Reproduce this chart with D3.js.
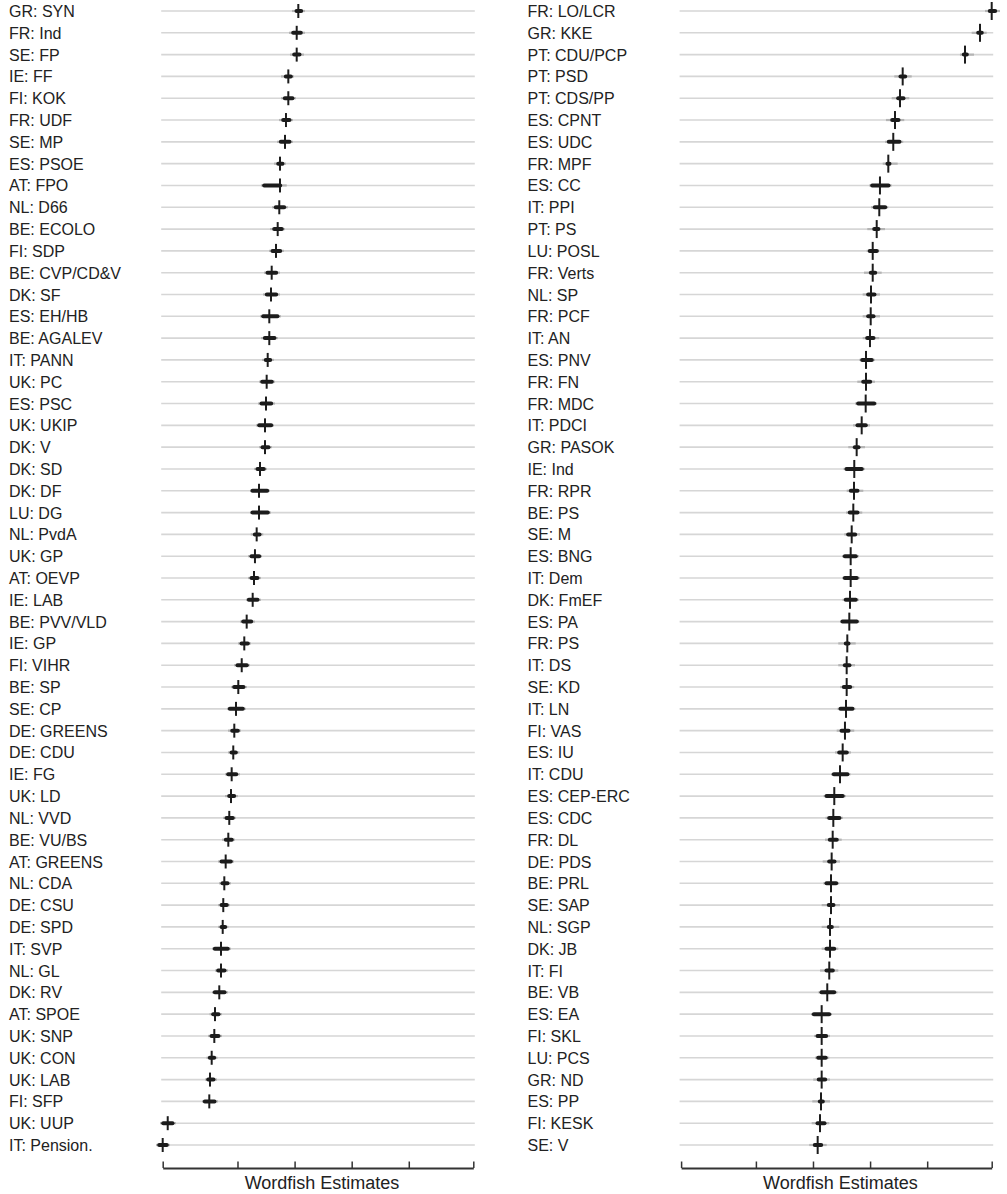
<!DOCTYPE html>
<html><head><meta charset="utf-8">
<script src="https://cdn.jsdelivr.net/npm/d3@7"></script>
<style>
body{margin:0;background:#fff}
svg{display:block}
text{font-family:"Liberation Sans",Arial,Helvetica,sans-serif}
</style>
</head><body>
<svg id="chart" width="1007" height="1194"></svg>
<script>
// ---------- DATA ----------
const leftParties = ["GR: SYN","FR: Ind","SE: FP","IE: FF","FI: KOK","FR: UDF","SE: MP","ES: PSOE","AT: FPO","NL: D66","BE: ECOLO","FI: SDP","BE: CVP/CD&V","DK: SF","ES: EH/HB","BE: AGALEV","IT: PANN","UK: PC","ES: PSC","UK: UKIP","DK: V","DK: SD","DK: DF","LU: DG","NL: PvdA","UK: GP","AT: OEVP","IE: LAB","BE: PVV/VLD","IE: GP","FI: VIHR","BE: SP","SE: CP","DE: GREENS","DE: CDU","IE: FG","UK: LD","NL: VVD","BE: VU/BS","AT: GREENS","NL: CDA","DE: CSU","DE: SPD","IT: SVP","NL: GL","DK: RV","AT: SPOE","UK: SNP","UK: CON","UK: LAB","FI: SFP","UK: UUP","IT: Pension."];
const leftEst = [0.065,0.037,0.037,-0.110,-0.110,-0.151,-0.168,-0.256,-0.256,-0.268,-0.296,-0.326,-0.401,-0.413,-0.443,-0.443,-0.471,-0.489,-0.501,-0.518,-0.518,-0.606,-0.623,-0.623,-0.664,-0.694,-0.711,-0.734,-0.839,-0.881,-0.926,-0.986,-1.026,-1.056,-1.074,-1.102,-1.114,-1.144,-1.161,-1.207,-1.231,-1.249,-1.259,-1.289,-1.289,-1.319,-1.394,-1.406,-1.452,-1.482,-1.494,-2.222,-2.310];
const leftLo = [0.007,-0.051,-0.033,-0.180,-0.198,-0.226,-0.268,-0.313,-0.559,-0.356,-0.384,-0.413,-0.501,-0.513,-0.576,-0.548,-0.531,-0.594,-0.606,-0.646,-0.588,-0.676,-0.764,-0.764,-0.723,-0.781,-0.781,-0.828,-0.926,-0.956,-1.026,-1.084,-1.161,-1.119,-1.131,-1.189,-1.172,-1.219,-1.231,-1.306,-1.289,-1.306,-1.306,-1.424,-1.364,-1.424,-1.452,-1.482,-1.511,-1.539,-1.599,-2.327,-2.398];
const leftHi = [0.142,0.135,0.112,-0.040,-0.011,-0.063,-0.063,-0.186,-0.226,-0.156,-0.198,-0.226,-0.296,-0.296,-0.273,-0.326,-0.401,-0.373,-0.384,-0.384,-0.431,-0.513,-0.454,-0.443,-0.588,-0.594,-0.623,-0.623,-0.734,-0.793,-0.811,-0.869,-0.881,-0.968,-1.003,-0.996,-1.032,-1.056,-1.074,-1.091,-1.149,-1.161,-1.189,-1.144,-1.201,-1.201,-1.306,-1.306,-1.382,-1.394,-1.377,-2.112,-2.212];
const leftWideLo = [-0.046,-0.098,-0.081,-0.238,-0.238,-0.273,-0.308,-0.361,-0.588,-0.396,-0.431,-0.448,-0.536,-0.553,-0.606,-0.588,-0.571,-0.623,-0.641,-0.676,-0.623,-0.711,-0.781,-0.781,-0.769,-0.816,-0.816,-0.851,-0.956,-0.991,-1.061,-1.114,-1.184,-1.166,-1.166,-1.219,-1.219,-1.254,-1.271,-1.341,-1.324,-1.341,-1.341,-1.447,-1.394,-1.447,-1.490,-1.517,-1.543,-1.569,-1.622,-2.357,-2.427];
const leftWideHi = [0.182,0.182,0.165,-0.011,0.025,-0.028,-0.028,-0.151,-0.138,-0.116,-0.168,-0.186,-0.256,-0.256,-0.238,-0.291,-0.361,-0.343,-0.343,-0.361,-0.396,-0.483,-0.431,-0.413,-0.548,-0.571,-0.588,-0.588,-0.694,-0.764,-0.781,-0.834,-0.851,-0.939,-0.965,-0.956,-0.991,-1.026,-1.044,-1.061,-1.114,-1.131,-1.158,-1.114,-1.166,-1.166,-1.271,-1.271,-1.350,-1.359,-1.341,-2.077,-2.182];

const rightParties = ["FR: LO/LCR","GR: KKE","PT: CDU/PCP","PT: PSD","PT: CDS/PP","ES: CPNT","ES: UDC","FR: MPF","ES: CC","IT: PPI","PT: PS","LU: POSL","FR: Verts","NL: SP","FR: PCF","IT: AN","ES: PNV","FR: FN","FR: MDC","IT: PDCI","GR: PASOK","IE: Ind","FR: RPR","BE: PS","SE: M","ES: BNG","IT: Dem","DK: FmEF","ES: PA","FR: PS","IT: DS","SE: KD","IT: LN","FI: VAS","ES: IU","IT: CDU","ES: CEP-ERC","ES: CDC","FR: DL","DE: PDS","BE: PRL","SE: SAP","NL: SGP","DK: JB","IT: FI","BE: VB","ES: EA","FI: SKL","LU: PCS","GR: ND","ES: PP","FI: KESK","SE: V"];
const rightEst = [3.130,2.925,2.662,1.571,1.524,1.436,1.406,1.319,1.173,1.161,1.116,1.046,1.046,1.016,1.011,0.998,0.928,0.928,0.923,0.853,0.765,0.723,0.718,0.706,0.678,0.660,0.660,0.648,0.636,0.601,0.590,0.590,0.578,0.560,0.520,0.473,0.373,0.356,0.345,0.327,0.315,0.315,0.298,0.298,0.285,0.250,0.152,0.152,0.152,0.152,0.140,0.123,0.082];
const rightLo = [3.070,2.867,2.615,1.506,1.466,1.361,1.301,1.278,1.011,1.056,1.046,0.968,0.986,0.940,0.940,0.923,0.835,0.853,0.765,0.753,0.706,0.560,0.636,0.618,0.590,0.531,0.531,0.548,0.490,0.548,0.531,0.513,0.455,0.473,0.433,0.338,0.210,0.257,0.268,0.257,0.210,0.250,0.250,0.210,0.210,0.123,-0.012,0.053,0.065,0.075,0.093,0.053,0.005];
const rightHi = [3.217,2.982,2.720,1.641,1.611,1.524,1.541,1.366,1.349,1.291,1.173,1.144,1.116,1.103,1.086,1.086,1.056,1.028,1.098,0.951,0.823,0.881,0.806,0.806,0.765,0.776,0.793,0.776,0.793,0.648,0.665,0.678,0.718,0.648,0.618,0.630,0.548,0.490,0.443,0.403,0.433,0.385,0.356,0.398,0.373,0.398,0.310,0.257,0.250,0.240,0.198,0.228,0.170];
const rightWideLo = [3.012,2.779,2.574,1.424,1.378,1.278,1.261,1.221,0.986,1.016,0.951,0.940,0.893,0.870,0.870,0.870,0.811,0.776,0.736,0.701,0.618,0.534,0.590,0.578,0.548,0.508,0.508,0.517,0.473,0.443,0.443,0.473,0.429,0.415,0.385,0.315,0.184,0.219,0.210,0.170,0.180,0.152,0.152,0.152,0.123,0.096,-0.035,0.018,0.035,0.005,-0.012,-0.023,-0.065];
const rightWideHi = [3.275,3.042,2.820,1.729,1.687,1.599,1.581,1.483,1.378,1.319,1.261,1.161,1.203,1.173,1.173,1.161,1.086,1.086,1.121,0.998,0.911,0.911,0.881,0.863,0.823,0.806,0.823,0.806,0.814,0.748,0.736,0.723,0.744,0.723,0.665,0.657,0.578,0.525,0.503,0.473,0.461,0.473,0.461,0.443,0.443,0.429,0.333,0.298,0.285,0.298,0.298,0.285,0.240];

const axisInnerTicks = [-1, 0, 1, 2];
const axisTitle = "Wordfish Estimates";

// ---------- DRAWING ----------
const svg = d3.select("#chart");
const allEst = leftEst.concat(rightEst);
const xMin = d3.min(allEst), xMax = d3.max(allEst);
const tickVals = [xMin, ...axisInnerTicks, xMax];

const panels = [
  {parties: leftParties, est: leftEst, lo: leftLo, hi: leftHi, wlo: leftWideLo, whi: leftWideHi,
   labelX: 9, r0: 162.7, r1: 473.3, vlen: 14},
  {parties: rightParties, est: rightEst, lo: rightLo, hi: rightHi, wlo: rightWideLo, whi: rightWideHi,
   labelX: 527.5, r0: 681.1, r1: 991.7, vlen: 18}
];

panels.forEach(p => {
  const x = d3.scaleLinear().domain([xMin, xMax]).range([p.r0, p.r1]);
  const y = d3.scalePoint().domain(p.parties).range([11, 1145]);
  const rows = p.parties.map((name, i) => ({name, est: p.est[i], lo: p.lo[i], hi: p.hi[i], wlo: p.wlo[i], whi: p.whi[i]}));
  const g = svg.append("g");

  g.append("g").selectAll("line").data(rows).join("line")
    .attr("x1", p.r0 - 1.5).attr("x2", p.r1 + 1.5)
    .attr("y1", d => y(d.name)).attr("y2", d => y(d.name))
    .attr("stroke", "#d6d6d6").attr("stroke-width", 1.6);

  g.append("g").selectAll("text").data(rows).join("text")
    .attr("x", p.labelX).attr("y", d => y(d.name) + 6)
    .attr("font-size", 16).attr("fill", "#222")
    .text(d => d.name);

  g.append("g").selectAll("line").data(rows).join("line")
    .attr("x1", d => x(d.wlo)).attr("x2", d => x(d.whi))
    .attr("y1", d => y(d.name)).attr("y2", d => y(d.name))
    .attr("stroke", "#b4b4b4").attr("stroke-width", 2.2);

  g.append("g").selectAll("line").data(rows).join("line")
    .attr("x1", d => x(d.lo) + 1.5).attr("x2", d => x(d.hi) - 1.5)
    .attr("y1", d => y(d.name)).attr("y2", d => y(d.name))
    .attr("stroke", "#1c1c1c").attr("stroke-width", 4).attr("stroke-linecap", "round");

  g.append("g").selectAll("line").data(rows).join("line")
    .attr("x1", d => x(d.est)).attr("x2", d => x(d.est))
    .attr("y1", d => y(d.name) - p.vlen / 2).attr("y2", d => y(d.name) + p.vlen / 2)
    .attr("stroke", "#1c1c1c").attr("stroke-width", 2);

  const axis = d3.axisTop(x).tickValues(tickVals).tickSize(6.5).tickSizeOuter(0).tickFormat("");
  const ax = g.append("g").attr("transform", "translate(0,1168)").call(axis);
  ax.select(".domain").attr("stroke", "#333").attr("stroke-width", 1.8);
  ax.selectAll(".tick line").attr("stroke", "#333").attr("stroke-width", 1.5);

  g.append("text")
    .attr("x", (p.r0 + p.r1) / 2 + 4).attr("y", 1189)
    .attr("text-anchor", "middle").attr("font-size", 18).attr("fill", "#222")
    .text(axisTitle);
});
</script>
</body></html>
